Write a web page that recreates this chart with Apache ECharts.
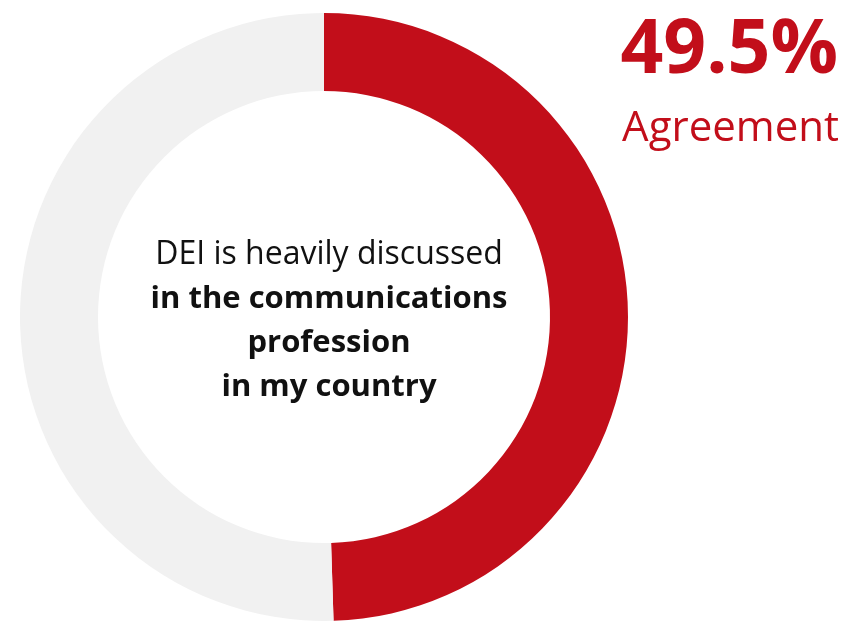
<!DOCTYPE html>
<html><head><meta charset="utf-8">
<script src="https://cdn.jsdelivr.net/npm/echarts@6/dist/echarts.min.js"></script>
<style>html,body{margin:0;padding:0;background:#fff}#c{width:858px;height:621px}</style>
</head><body><div id="c"></div>
<script>
const categories = ['Agreement', 'Other'];
const values = [49.5, 50.5];
const colors = ['#C20E1A', '#F1F1F1'];
const headline = '49.5%';
const headlineSub = 'Agreement';
const centerLines = ['DEI is heavily discussed', 'in the communications', 'profession', 'in my country'];

const chart = echarts.init(document.getElementById('c'), null, {renderer: 'canvas'});
chart.setOption({
  animation: false,
  backgroundColor: '#ffffff',
  title: [
    {
      text: '{n|' + centerLines[0] + '}\n{b|' + centerLines.slice(1).join('}\n{b|') + '}',
      left: 324, top: 228, textAlign: 'center',
      textStyle: {
        rich: {
          n: {fontFamily: 'Open Sans', fontSize: 32, fontWeight: 'normal', color: '#111', lineHeight: 44, align: 'center'},
          b: {fontFamily: 'Open Sans', fontSize: 31, fontWeight: 'bold', color: '#111', lineHeight: 44, align: 'center'}
        }
      }
    },
    {
      text: headline,
      right: 15, top: 9,
      textStyle: {fontFamily: 'Open Sans', fontSize: 75, fontWeight: 'bold', color: '#C20E1A'}
    },
    {
      text: headlineSub,
      right: 14, top: 103,
      textStyle: {fontFamily: 'Open Sans', fontSize: 42, fontWeight: 'normal', color: '#C20E1A'}
    }
  ],
  series: [{
    type: 'pie',
    center: [324, 317],
    radius: [226, 304],
    startAngle: 90,
    clockwise: true,
    silent: true,
    label: {show: false},
    labelLine: {show: false},
    itemStyle: {borderWidth: 0},
    data: categories.map((c, i) => ({name: c, value: values[i], itemStyle: {color: colors[i]}}))
  }]
});
</script></body></html>
